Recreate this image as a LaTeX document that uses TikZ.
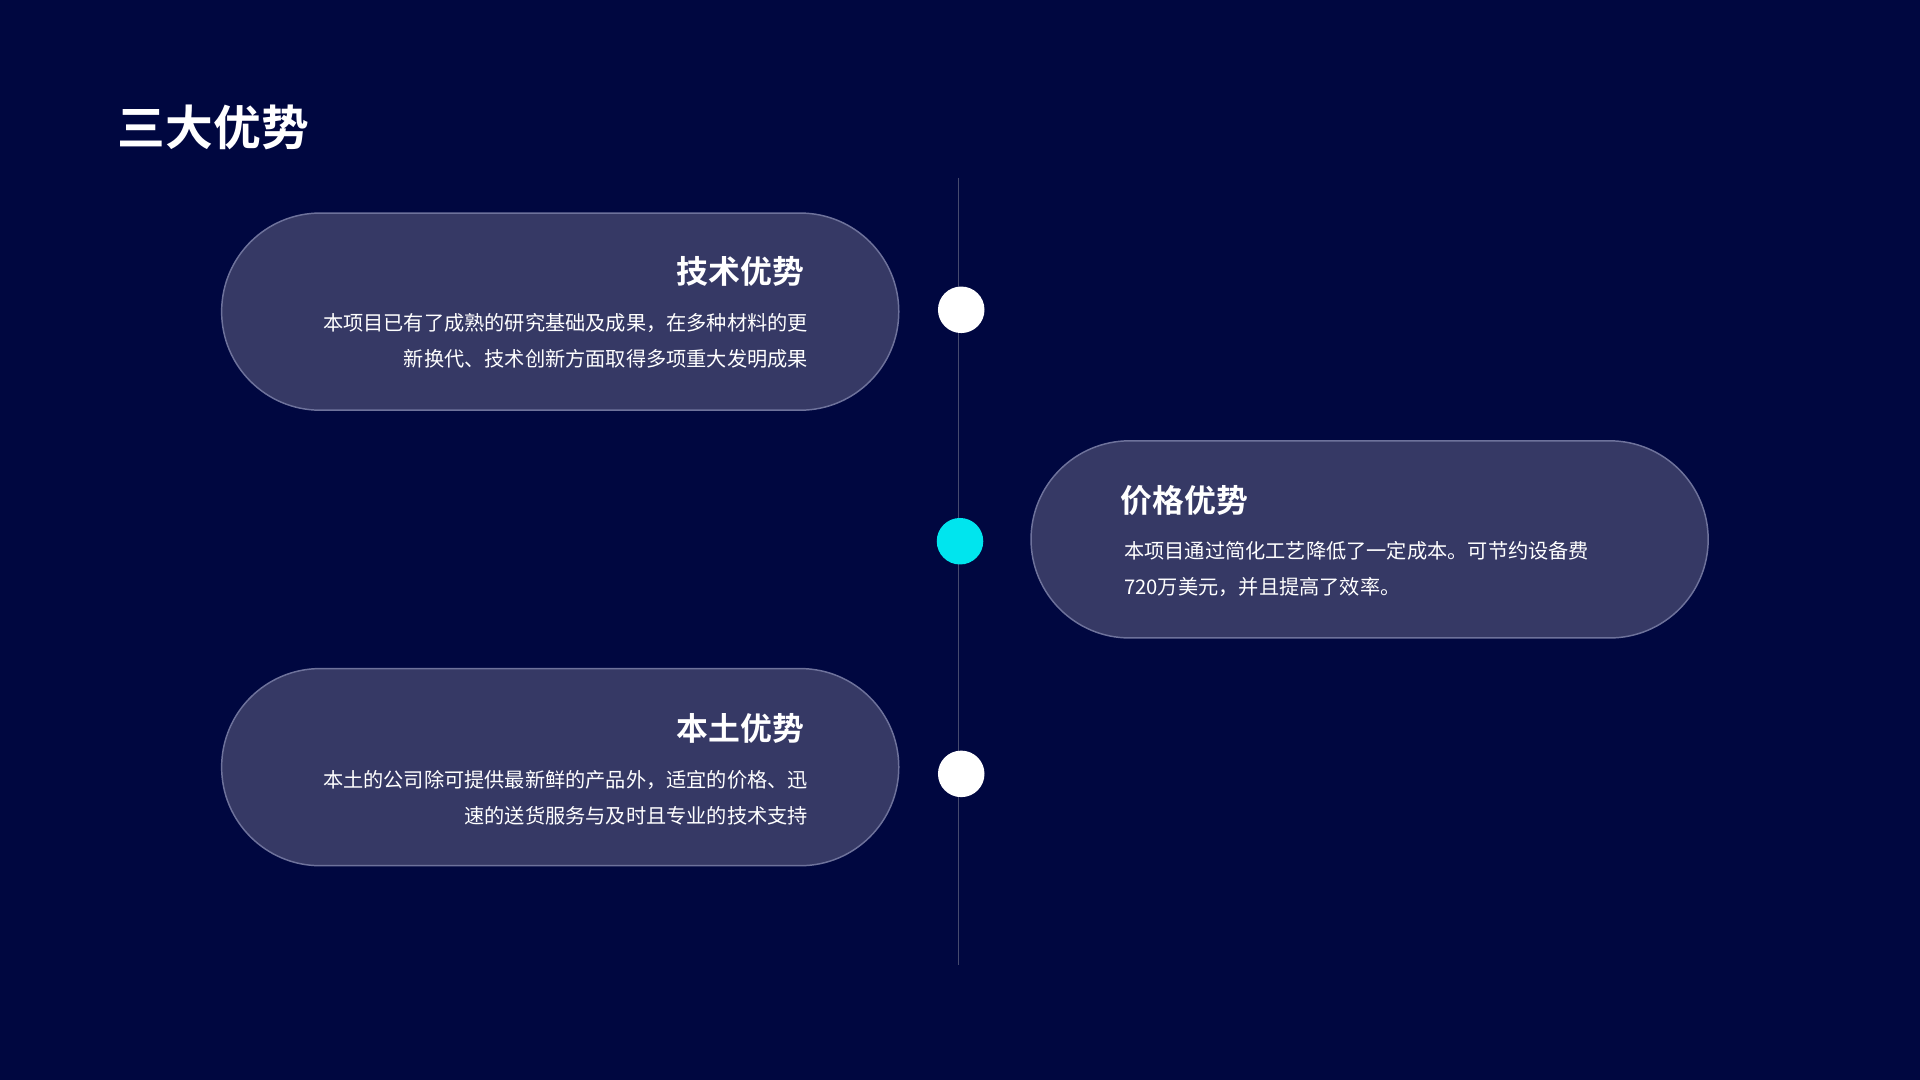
\documentclass[tikz,border=0pt]{standalone}
\usepackage{fontspec}
\setmainfont{Noto Sans CJK SC}
\newfontfamily\cjkb{Noto Sans CJK SC Bold}
\definecolor{bg}{RGB}{0,7,64}
\definecolor{pill}{RGB}{54,57,101}
\definecolor{pillb}{RGB}{110,114,155}
\definecolor{vline}{RGB}{70,74,110}
\definecolor{cyanc}{RGB}{0,229,238}
\begin{document}
\begin{tikzpicture}[x=1pt,y=-1pt,
  pillbox/.style={draw=pillb,line width=1.2pt,fill=pill,rounded corners=80.5pt},
  dot/.style={circle,minimum size=38pt,inner sep=0pt},
  head/.style={text=white,font=\cjkb\fontsize{26}{30}\selectfont,inner sep=0pt},
  body/.style={text=white,font=\fontsize{16.5}{29.5}\selectfont,inner sep=0pt}]
\fill[bg] (0,0) rectangle (1568,882);
\useasboundingbox (0,0) rectangle (1568,882);
\node[text=white,font=\cjkb\fontsize{39}{44}\selectfont,anchor=west,inner sep=0pt] (title) at (96,104) {三大优势};
\coordinate (ltop) at (783,145);
\coordinate (lbot) at (783,788);
\draw[vline,line width=1pt] (ltop) -- (lbot);
\draw[pillbox] (181,174) rectangle (734,335);
\draw[pillbox] (842,360) rectangle (1395,521);
\draw[pillbox] (181,546) rectangle (734,707);
\node[dot,fill=white] (d1) at (785,253) {};
\node[dot,fill=cyanc] (d2) at (784,442) {};
\node[dot,fill=white] (d3) at (785,632) {};
\node[head,anchor=east] (h1) at (657,222) {技术优势};
\node[body,anchor=north east,align=right] (b1) at (660,256) {本项目已有了成熟的研究基础及成果，在多种材料的更\\新换代、技术创新方面取得多项重大发明成果};
\node[head,anchor=west] (h2) at (915,409) {价格优势};
\node[body,anchor=north west,align=left] (b2) at (918,442) {本项目通过简化工艺降低了一定成本。可节约设备费\\720万美元，并且提高了效率。};
\node[head,anchor=east] (h3) at (657,595) {本土优势};
\node[body,anchor=north east,align=right] (b3) at (660,629) {本土的公司除可提供最新鲜的产品外，适宜的价格、迅\\速的送货服务与及时且专业的技术支持};
\end{tikzpicture}
\end{document}
